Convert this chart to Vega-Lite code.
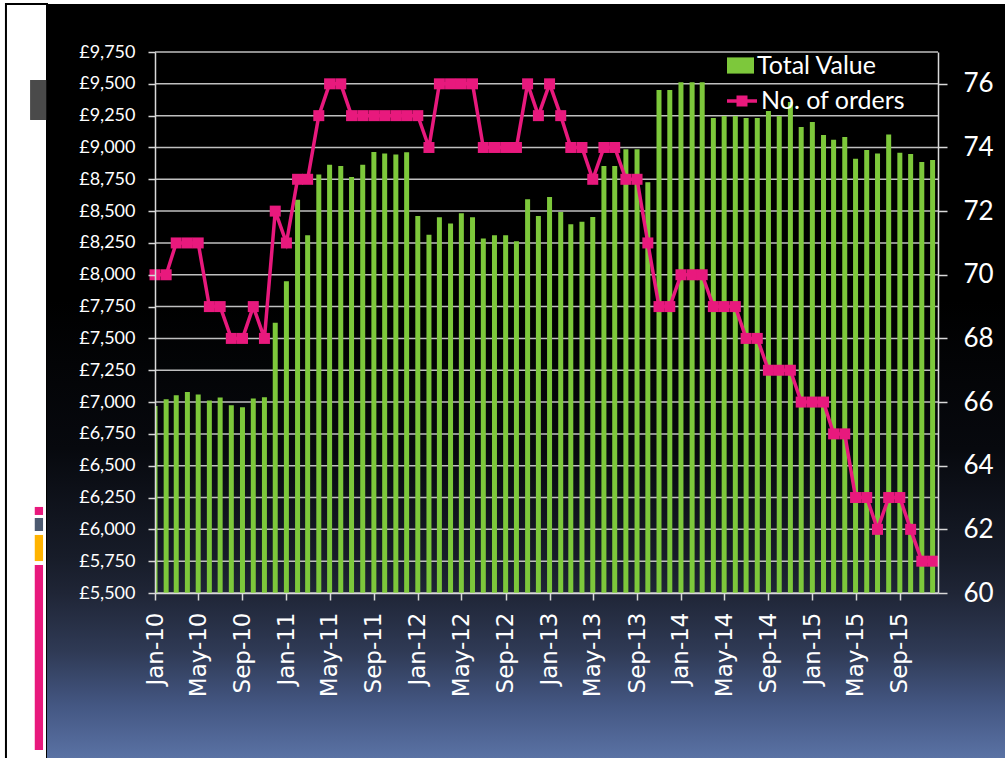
{
  "$schema": "https://vega.github.io/schema/vega-lite/v6.json",
  "width": 783,
  "height": 541,
  "autosize": {"type": "none"},
  "padding": {"left": 155, "top": 52, "right": 67, "bottom": 165},
  "background": "white",
  "config": {
    "view": {"stroke": null},
    "axis": {"grid": false, "domainColor": "#d9d9d9", "domainWidth": 1.5, "tickColor": "#d9d9d9", "tickWidth": 1.5, "labelColor": "white", "labelOverlap": false, "labelFlush": false}
  },
  "data": {"values": [
    {"month": "2010-01-01", "total": 6970, "orders": 70},
    {"month": "2010-02-01", "total": 7022, "orders": 70},
    {"month": "2010-03-01", "total": 7054, "orders": 71},
    {"month": "2010-04-01", "total": 7080, "orders": 71},
    {"month": "2010-05-01", "total": 7059, "orders": 71},
    {"month": "2010-06-01", "total": 7012, "orders": 69},
    {"month": "2010-07-01", "total": 7035, "orders": 69},
    {"month": "2010-08-01", "total": 6975, "orders": 68},
    {"month": "2010-09-01", "total": 6959, "orders": 68},
    {"month": "2010-10-01", "total": 7027, "orders": 69},
    {"month": "2010-11-01", "total": 7038, "orders": 68},
    {"month": "2010-12-01", "total": 7624, "orders": 72},
    {"month": "2011-01-01", "total": 7949, "orders": 71},
    {"month": "2011-02-01", "total": 8590, "orders": 73},
    {"month": "2011-03-01", "total": 8310, "orders": 73},
    {"month": "2011-04-01", "total": 8787, "orders": 75},
    {"month": "2011-05-01", "total": 8865, "orders": 76},
    {"month": "2011-06-01", "total": 8855, "orders": 76},
    {"month": "2011-07-01", "total": 8768, "orders": 75},
    {"month": "2011-08-01", "total": 8865, "orders": 75},
    {"month": "2011-09-01", "total": 8965, "orders": 75},
    {"month": "2011-10-01", "total": 8952, "orders": 75},
    {"month": "2011-11-01", "total": 8944, "orders": 75},
    {"month": "2011-12-01", "total": 8962, "orders": 75},
    {"month": "2012-01-01", "total": 8462, "orders": 75},
    {"month": "2012-02-01", "total": 8315, "orders": 74},
    {"month": "2012-03-01", "total": 8451, "orders": 76},
    {"month": "2012-04-01", "total": 8402, "orders": 76},
    {"month": "2012-05-01", "total": 8483, "orders": 76},
    {"month": "2012-06-01", "total": 8451, "orders": 76},
    {"month": "2012-07-01", "total": 8284, "orders": 74},
    {"month": "2012-08-01", "total": 8310, "orders": 74},
    {"month": "2012-09-01", "total": 8310, "orders": 74},
    {"month": "2012-10-01", "total": 8263, "orders": 74},
    {"month": "2012-11-01", "total": 8593, "orders": 76},
    {"month": "2012-12-01", "total": 8462, "orders": 75},
    {"month": "2013-01-01", "total": 8611, "orders": 76},
    {"month": "2013-02-01", "total": 8493, "orders": 75},
    {"month": "2013-03-01", "total": 8397, "orders": 74},
    {"month": "2013-04-01", "total": 8417, "orders": 74},
    {"month": "2013-05-01", "total": 8454, "orders": 73},
    {"month": "2013-06-01", "total": 8855, "orders": 74},
    {"month": "2013-07-01", "total": 8855, "orders": 74},
    {"month": "2013-08-01", "total": 8986, "orders": 73},
    {"month": "2013-09-01", "total": 8986, "orders": 73},
    {"month": "2013-10-01", "total": 8726, "orders": 71},
    {"month": "2013-11-01", "total": 9452, "orders": 69},
    {"month": "2013-12-01", "total": 9452, "orders": 69},
    {"month": "2014-01-01", "total": 9512, "orders": 70},
    {"month": "2014-02-01", "total": 9512, "orders": 70},
    {"month": "2014-03-01", "total": 9512, "orders": 70},
    {"month": "2014-04-01", "total": 9232, "orders": 69},
    {"month": "2014-05-01", "total": 9247, "orders": 69},
    {"month": "2014-06-01", "total": 9247, "orders": 69},
    {"month": "2014-07-01", "total": 9232, "orders": 68},
    {"month": "2014-08-01", "total": 9232, "orders": 68},
    {"month": "2014-09-01", "total": 9287, "orders": 67},
    {"month": "2014-10-01", "total": 9247, "orders": 67},
    {"month": "2014-11-01", "total": 9357, "orders": 67},
    {"month": "2014-12-01", "total": 9161, "orders": 66},
    {"month": "2015-01-01", "total": 9200, "orders": 66},
    {"month": "2015-02-01", "total": 9098, "orders": 66},
    {"month": "2015-03-01", "total": 9061, "orders": 65},
    {"month": "2015-04-01", "total": 9082, "orders": 65},
    {"month": "2015-05-01", "total": 8912, "orders": 63},
    {"month": "2015-06-01", "total": 8980, "orders": 63},
    {"month": "2015-07-01", "total": 8952, "orders": 62},
    {"month": "2015-08-01", "total": 9101, "orders": 63},
    {"month": "2015-09-01", "total": 8959, "orders": 63},
    {"month": "2015-10-01", "total": 8949, "orders": 62},
    {"month": "2015-11-01", "total": 8886, "orders": 61},
    {"month": "2015-12-01", "total": 8902, "orders": 61}
  ]},
  "layer": [
    {
      "layer": [
        {
          "data": {"values": [{}]},
          "mark": {"type": "rect", "color": "white", "stroke": "black", "strokeWidth": 2},
          "encoding": {
            "x": {"datum": {"year": 2008, "month": 11, "date": 13, "utc": true}, "type": "temporal", "axis": null,
              "scale": {"type": "utc", "nice": false, "domain": [{"year": 2010, "month": 1, "date": 1, "utc": true}, {"year": 2015, "month": 12, "date": 16, "utc": true}]}},
            "x2": {"datum": {"year": 2009, "month": 3, "date": 7, "utc": true}},
            "y": {"datum": 10127, "type": "quantitative", "axis": null, "scale": {"domain": [5500, 9750], "nice": false, "zero": false}},
            "y2": {"datum": 4000}
          }
        },
        {
          "data": {"values": [{}]},
          "mark": {"type": "rect", "color": {"gradient": "linear", "x1": 0, "y1": 0, "x2": 0, "y2": 1, "stops": [
            {"offset": 0, "color": "#000000"},
            {"offset": 0.38, "color": "#000000"},
            {"offset": 0.57, "color": "#07090e"},
            {"offset": 0.71, "color": "#171c29"},
            {"offset": 0.755, "color": "#1f2536"},
            {"offset": 0.83, "color": "#2f3a55"},
            {"offset": 0.9, "color": "#445783"},
            {"offset": 0.967, "color": "#5a72a4"},
            {"offset": 1, "color": "#5d76a9"}
          ]}},
          "encoding": {
            "x": {"datum": {"year": 2009, "month": 3, "date": 7, "utc": true}, "type": "temporal", "axis": null},
            "x2": {"datum": {"year": 2016, "month": 12, "date": 31, "utc": true}},
            "y": {"datum": 10127, "type": "quantitative", "axis": null},
            "y2": {"datum": 4000}
          }
        },
        {
          "data": {"values": [{}]},
          "mark": {"type": "rect", "color": "#4a4a4a"},
          "encoding": {
            "x": {"datum": {"year": 2009, "month": 1, "date": 19, "utc": true}, "type": "temporal", "axis": null},
            "x2": {"datum": {"year": 2009, "month": 3, "date": 5, "utc": true}},
            "y": {"datum": 9530, "type": "quantitative", "axis": null},
            "y2": {"datum": 9216}
          }
        },
        {
          "data": {"values": [{}]},
          "mark": {"type": "rect", "color": "#e8197d"},
          "encoding": {
            "x": {"datum": {"year": 2009, "month": 2, "date": 1, "utc": true}, "type": "temporal", "axis": null},
            "x2": {"datum": {"year": 2009, "month": 2, "date": 24, "utc": true}},
            "y": {"datum": 6176, "type": "quantitative", "axis": null},
            "y2": {"datum": 6113}
          }
        },
        {
          "data": {"values": [{}]},
          "mark": {"type": "rect", "color": "#4c5a70"},
          "encoding": {
            "x": {"datum": {"year": 2009, "month": 2, "date": 1, "utc": true}, "type": "temporal", "axis": null},
            "x2": {"datum": {"year": 2009, "month": 2, "date": 24, "utc": true}},
            "y": {"datum": 6089, "type": "quantitative", "axis": null},
            "y2": {"datum": 5987}
          }
        },
        {
          "data": {"values": [{}]},
          "mark": {"type": "rect", "color": "#ffb300"},
          "encoding": {
            "x": {"datum": {"year": 2009, "month": 2, "date": 1, "utc": true}, "type": "temporal", "axis": null},
            "x2": {"datum": {"year": 2009, "month": 2, "date": 24, "utc": true}},
            "y": {"datum": 5956, "type": "quantitative", "axis": null},
            "y2": {"datum": 5751}
          }
        },
        {
          "data": {"values": [{}]},
          "mark": {"type": "rect", "color": "#e8197d"},
          "encoding": {
            "x": {"datum": {"year": 2009, "month": 2, "date": 1, "utc": true}, "type": "temporal", "axis": null},
            "x2": {"datum": {"year": 2009, "month": 2, "date": 24, "utc": true}},
            "y": {"datum": 5720, "type": "quantitative", "axis": null},
            "y2": {"datum": 4267}
          }
        },
        {
          "data": {"values": [{"v": 5500}, {"v": 5750}, {"v": 6000}, {"v": 6250}, {"v": 6500}, {"v": 6750}, {"v": 7000}, {"v": 7250}, {"v": 7500}, {"v": 7750}, {"v": 8000}, {"v": 8250}, {"v": 8500}, {"v": 8750}, {"v": 9000}, {"v": 9250}, {"v": 9500}, {"v": 9750}]},
          "mark": {"type": "rule", "color": "#bfbfbf", "strokeWidth": 1.5},
          "encoding": {
            "y": {"field": "v", "type": "quantitative", "axis": null}
          }
        }
      ]
    },
    {
      "mark": {"type": "bar", "size": 5, "clip": true},
      "encoding": {
        "x": {
          "field": "month", "type": "temporal",
          "scale": {"type": "utc", "nice": false, "padding": 0, "domain": [{"year": 2010, "month": 1, "date": 1, "utc": true}, {"year": 2015, "month": 12, "date": 16, "utc": true}]},
          "axis": {"title": null, "zindex": 1, "format": "%b-%y", "labelAngle": -90, "labelFont": "DejaVu Sans", "labelFontSize": 23, "labelPadding": 12, "tickSize": 7, "values": [1262304000000, 1272672000000, 1283299200000, 1293840000000, 1304208000000, 1314835200000, 1325376000000, 1335830400000, 1346457600000, 1356998400000, 1367366400000, 1377993600000, 1388534400000, 1398902400000, 1409529600000, 1420070400000, 1430438400000, 1441065600000]}
        },
        "y": {
          "field": "total", "type": "quantitative",
          "scale": {"domain": [5500, 9750], "nice": false, "zero": false},
          "axis": {"title": null, "zindex": 1, "orient": "left", "values": [5500, 5750, 6000, 6250, 6500, 6750, 7000, 7250, 7500, 7750, 8000, 8250, 8500, 8750, 9000, 9250, 9500, 9750], "labelExpr": "'£' + format(datum.value, ',')", "labelFont": "Lato", "labelFontSize": 18, "labelPadding": 13, "tickSize": 7}
        },
        "y2": {"datum": 5500},
        "fill": {
          "datum": "Total Value",
          "scale": {"range": ["#7dc83b"]},
          "legend": {
            "orient": "none", "legendX": 572, "legendY": 0, "title": null, "padding": 0, "zindex": 1,
            "symbolType": "M-1,-0.6L1,-0.6L1,0.6L-1,0.6Z", "symbolSize": 729, "symbolStrokeWidth": 0,
            "labelFont": "Lato", "labelFontSize": 25, "labelColor": "white", "labelOffset": 3
          }
        }
      }
    },
    {
      "layer": [
        {
          "mark": {"type": "line", "strokeWidth": 3.5},
          "encoding": {
            "x": {"field": "month", "type": "temporal", "axis": null,
              "scale": {"type": "utc", "nice": false, "domain": [{"year": 2010, "month": 1, "date": 1, "utc": true}, {"year": 2015, "month": 12, "date": 16, "utc": true}]}},
            "y": {
              "field": "orders", "type": "quantitative",
              "scale": {"domain": [60, 77], "nice": false, "zero": false},
              "axis": {"title": null, "zindex": 1, "orient": "right", "values": [60, 62, 64, 66, 68, 70, 72, 74, 76], "labelFont": "Lato", "labelFontSize": 26, "labelPadding": 16, "tickSize": 9}
            },
            "stroke": {
              "datum": "No. of orders",
              "scale": {"range": ["#e8197d"]},
              "legend": {
                "orient": "none", "legendX": 570, "legendY": 32, "title": null, "padding": 0, "zindex": 1,
                "symbolType": "M-1,0L1,0M-0.25,-0.25L0.25,-0.25L0.25,0.25L-0.25,0.25Z", "symbolSize": 900, "symbolStrokeWidth": 3.5,
                "symbolFillColor": "#e8197d", "symbolStrokeColor": "#e8197d",
                "labelFont": "Lato", "labelFontSize": 25, "labelColor": "white", "labelOffset": 2
              }
            }
          }
        },
        {
          "mark": {"type": "square", "size": 121, "color": "#e8197d", "opacity": 1},
          "encoding": {
            "x": {"field": "month", "type": "temporal", "axis": null},
            "y": {
              "field": "orders", "type": "quantitative",
              "axis": {"title": null, "zindex": 1, "orient": "right", "values": [60, 62, 64, 66, 68, 70, 72, 74, 76], "labelFont": "Lato", "labelFontSize": 26, "labelPadding": 16, "tickSize": 9}
            }
          }
        }
      ]
    }
  ],
  "resolve": {"scale": {"x": "independent", "y": "independent"}}
}
